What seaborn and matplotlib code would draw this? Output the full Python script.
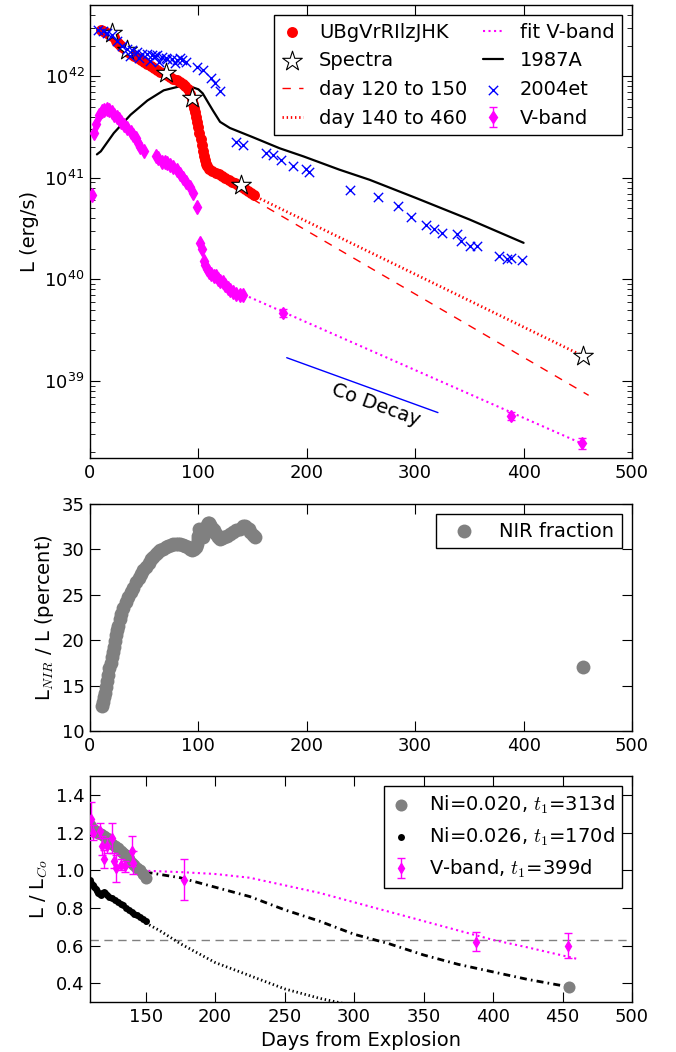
import numpy as np
import matplotlib
matplotlib.use("Agg")
import matplotlib.pyplot as plt
import seaborn as sns

# ---- top panel: luminosity, values as log10(L / erg s^-1) ----
red_days = [10, 12, 14, 16, 18, 20, 22, 24, 26, 28, 30, 32,
            35, 38, 41, 44, 47, 50, 53, 56, 59, 62, 65, 68, 71, 74, 77, 80, 83, 86,
            88, 90, 92, 94,
            95, 96, 97, 98, 99, 100, 101, 102, 103, 104, 105, 106, 107, 108,
            110, 113, 116, 119, 122, 125, 128, 131, 134, 137, 140, 143, 146, 149,
            151]
red_logL = [42.45, 42.44, 42.43, 42.42, 42.41, 42.39, 42.38, 42.35, 42.33, 42.31, 42.29, 42.27,
            42.24, 42.22, 42.20, 42.18, 42.16, 42.14, 42.12, 42.10, 42.08, 42.06, 42.04, 42.03,
            42.01, 41.99, 41.97, 41.96, 41.94, 41.92,
            41.90, 41.87, 41.82, 41.77,
            41.73, 41.69, 41.65, 41.60, 41.55, 41.50, 41.44, 41.38, 41.32, 41.26, 41.21, 41.17,
            41.14, 41.12,
            41.09, 41.07, 41.05, 41.04, 41.02, 41.00, 40.98, 40.96, 40.95, 40.93, 40.91, 40.89,
            40.87, 40.85,
            40.83]

spec_days = [20.7, 34.5, 70.4, 93.9, 139, 455]
spec_logL = [42.42, 42.26, 42.03, 41.78, 40.93, 39.25]

fit120_days = [150, 460]
fit120_logL = [40.79, 38.86]
fit140_days = [150, 460]
fit140_logL = [40.83, 39.22]
fitV_days = [142, 455]
fitV_logL = [39.85, 38.38]

sn87a_days = [6.4, 10, 22, 37.5, 53, 68, 83, 92, 100, 104, 109, 113.5, 120, 129, 150, 175,
              197, 230, 258, 301, 350, 400]
sn87a_logL = [41.23, 41.26, 41.44, 41.62, 41.76, 41.86, 41.90, 41.90, 41.87, 41.83, 41.74,
              41.66, 41.55, 41.49, 41.40, 41.29, 41.21, 41.08, 40.98, 40.80, 40.59, 40.36]

sn04et_days = [7, 11.6, 16, 20.7, 25, 30, 34.5, 37, 39, 43.6, 45, 48, 53, 55, 57, 60, 62, 64,
               66.5, 70, 71, 75.6, 78, 80, 83, 85, 89, 98.5, 104.6, 112, 115, 120, 135, 141,
               162.5, 168.6, 176, 187, 199, 202, 240, 266, 284, 296, 310, 317.5, 325, 339, 342,
               351, 357, 377, 385, 388, 398.5]
sn04et_logL = [42.45, 42.44, 42.42, 42.40, 42.35, 42.30, 42.27, 42.20, 42.26, 42.24, 42.18,
               42.22, 42.22, 42.15, 42.21, 42.20, 42.21, 42.14, 42.19, 42.18, 42.17, 42.17,
               42.13, 42.16, 42.18, 42.16, 42.14, 42.09, 42.06, 41.98, 41.93, 41.85, 41.35,
               41.32, 41.24, 41.22, 41.17, 41.12, 41.09, 41.06, 40.88, 40.81, 40.72, 40.61,
               40.54, 40.50, 40.46, 40.45, 40.38, 40.33, 40.33, 40.23, 40.20, 40.21, 40.19]

vband_days = [2, 3.5, 5.5, 8.5, 11, 13, 15.5, 17.7, 20, 22, 24.5, 27, 29, 31, 34, 37.5, 40, 42,
              44.5, 46.6, 50, 61, 63, 66.5, 69, 71, 74, 77, 80, 83, 86, 89, 92, 95.4, 98.5,
              101.6, 103, 105, 106.5, 108, 110, 112, 114, 116, 118, 120, 123, 125, 127, 129.5,
              132, 135, 138, 141]
vband_logL = [40.83, 41.44, 41.53, 41.62, 41.66, 41.67, 41.68, 41.67, 41.65, 41.62, 41.60,
              41.58, 41.55, 41.52, 41.49, 41.45, 41.42, 41.39, 41.34, 41.30, 41.26, 41.21,
              41.19, 41.16, 41.16, 41.15, 41.13, 41.11, 41.08, 41.04, 41.00, 40.96, 40.91,
              40.85, 40.71, 40.36, 40.30, 40.18, 40.14, 40.10, 40.07, 40.05, 40.03, 40.03,
              40.00, 39.98, 39.97, 39.95, 39.92, 39.90, 39.88, 39.86, 39.85, 39.85]
vlate_days = [178, 388.5, 454]
vlate_logL = [39.67, 38.66, 38.39]
vlate_err = [0.04, 0.04, 0.05]   # dex

co_days = [181.5, 321]
co_logL = [39.23, 38.69]

# ---- middle panel: NIR fraction (percent) ----
nir_days = [11, 12, 13, 14, 15, 16, 17, 18, 19, 20, 21, 22, 23, 24, 25, 26, 27.5, 29, 30.8,
            33, 35, 37.5, 40, 42.5, 45, 47, 49, 51.5, 54, 56, 58.5, 61, 63, 65, 67.7, 70, 72,
            74.5, 77, 79, 81, 83.5, 86, 88, 90, 92, 94, 96, 97.5, 98.5, 99.5, 100, 101, 102,
            103, 104.6, 106, 107, 108, 109, 110, 111, 112.5, 114, 115.5, 117, 118.5, 120, 122,
            124, 126.5, 129, 132, 135, 138, 141.5, 143, 145, 146.5, 148, 150, 152, 455]
nir_frac = [12.8, 13.2, 13.7, 14.2, 14.8, 15.5, 16.2, 16.9, 17.5, 18.1, 18.7, 19.3, 19.9, 20.6,
            21.1, 21.6, 22.3, 22.9, 23.6, 24.2, 24.8, 25.3, 25.8, 26.4, 26.9, 27.3, 27.7, 28.1,
            28.5, 28.9, 29.2, 29.5, 29.7, 29.9, 30.1, 30.3, 30.4, 30.5, 30.6, 30.6, 30.6, 30.6,
            30.5, 30.4, 30.3, 30.1, 29.9, 30.0, 30.3, 30.6, 31.1, 31.5, 32.3, 32.0, 31.8, 31.4,
            31.9, 32.3, 32.7, 32.9, 32.9, 32.7, 32.4, 32.1, 31.8, 31.6, 31.4, 31.2, 31.3, 31.4,
            31.5, 31.7, 31.9, 32.1, 32.3, 32.6, 32.6, 32.4, 32.2, 31.9, 31.6, 31.4, 17.0]

# ---- bottom panel: L / L_Co ----
ni020_days = [110, 112, 114, 116, 118, 120, 122, 124, 126, 128, 130, 132, 134, 136, 138, 140,
              142, 144, 146, 148, 150, 455]
ni020_ratio = [1.24, 1.22, 1.21, 1.20, 1.19, 1.18, 1.17, 1.15, 1.14, 1.13, 1.12, 1.10, 1.09,
               1.08, 1.06, 1.04, 1.03, 1.01, 1.00, 0.98, 0.96, 0.38]
ni026_days = [110, 111, 112, 113, 114, 115, 116, 117, 118, 119, 120, 121, 122, 124, 126, 128,
              130, 132, 134, 136, 138, 140, 142, 144, 146, 148, 150]
ni026_ratio = [0.95, 0.93, 0.92, 0.91, 0.90, 0.89, 0.88, 0.875, 0.87, 0.88, 0.885, 0.88, 0.87,
               0.86, 0.85, 0.84, 0.83, 0.82, 0.815, 0.80, 0.79, 0.78, 0.77, 0.76, 0.75, 0.74,
               0.73]
vb_days = [111, 112, 117, 118.5, 120, 122, 125.7, 127.5, 129, 132.6, 135, 140, 141, 177.5, 388,
           454]
vb_ratio = [1.27, 1.20, 1.21, 1.13, 1.06, 1.13, 1.17, 1.05, 1.01, 1.03, 1.02, 1.10, 1.04, 0.95,
            0.62, 0.60]
vb_err = [0.09, 0.04, 0.04, 0.05, 0.05, 0.04, 0.08, 0.04, 0.07, 0.03, 0.03, 0.08, 0.06, 0.11,
          0.05, 0.065]

t313_days = [150, 175, 200, 225, 250, 275, 300, 325, 350, 375, 400, 425, 455]
t313_ratio = [0.99, 0.96, 0.91, 0.86, 0.79, 0.73, 0.66, 0.61, 0.55, 0.50, 0.46, 0.42, 0.38]
t170_days = [150, 160, 175, 200, 225, 250, 275, 300]
t170_ratio = [0.72, 0.68, 0.61, 0.51, 0.44, 0.37, 0.32, 0.28]
t399_days = [140, 175, 200, 225, 250, 275, 300, 325, 350, 375, 400, 425, 460]
t399_ratio = [1.00, 0.99, 0.98, 0.96, 0.92, 0.88, 0.83, 0.78, 0.73, 0.68, 0.63, 0.59, 0.53]
e_fold = 0.632


def lum(logl):
    return 10 ** np.asarray(logl)


sns.set_style("ticks")
plt.rcParams.update({
    "font.family": ["DejaVu Sans"],
    "font.size": 14,
    "mathtext.fontset": "cm",
    "axes.labelsize": 14,
    "xtick.labelsize": 13,
    "ytick.labelsize": 13,
    "legend.fontsize": 14,
    "axes.edgecolor": "black",
    "axes.linewidth": 1.0,
    "axes.labelcolor": "black",
    "text.color": "black",
    "xtick.color": "black",
    "ytick.color": "black",
    "xtick.direction": "in",
    "ytick.direction": "in",
    "xtick.top": True,
    "ytick.right": True,
    "xtick.major.size": 7.5,
    "ytick.major.size": 7.5,
    "xtick.minor.size": 3.5,
    "ytick.minor.size": 3.5,
    "xtick.major.width": 0.8,
    "ytick.major.width": 0.8,
    "xtick.major.pad": 4,
    "ytick.major.pad": 4,
    "legend.fancybox": False,
    "legend.edgecolor": "black",
    "legend.framealpha": 1.0,
})

fig = plt.figure(figsize=(6.76, 10.52), dpi=100)
ax1 = fig.add_axes([0.1331, 0.5646, 0.8018, 0.4306])
ax2 = fig.add_axes([0.1331, 0.3051, 0.8018, 0.2158])
ax3 = fig.add_axes([0.1331, 0.0475, 0.8018, 0.2148])

# ---------------- top ----------------
ax1.set_yscale("log")
ax1.plot(fit120_days, lum(fit120_logL), color="red", lw=1.0, dashes=(6, 6),
         label="day 120 to 150", zorder=2)
ax1.plot(fit140_days, lum(fit140_logL), color="red", lw=2.0, dashes=(0.5, 1.0),
         label="day 140 to 460", zorder=2)
ax1.plot(fitV_days, lum(fitV_logL), color="magenta", lw=1.5, ls=":",
         label="fit V-band", zorder=2)
sns.lineplot(x=sn87a_days, y=lum(sn87a_logL), color="black", lw=1.6, ax=ax1,
             label="1987A", zorder=3)
ax1.plot(co_days, lum(co_logL), color="blue", lw=1.0, zorder=3)
ax1.text(264, 10 ** 38.77, "Co Decay", rotation=-20, ha="center", va="center",
         rotation_mode="anchor", fontsize=14)

ax1.errorbar(vband_days, lum(vband_logL), fmt="d", color="magenta", ms=7.5, mec="magenta",
             zorder=4)
ax1.errorbar(vlate_days, lum(vlate_logL),
             yerr=lum(vlate_logL) * (10 ** np.asarray(vlate_err) - 1),
             fmt="d", color="magenta", ms=6, mec="magenta", capsize=3, elinewidth=1,
             label="V-band", zorder=4)
sns.scatterplot(x=red_days, y=lum(red_logL), color="red", s=62, linewidth=0, ax=ax1,
                label="UBgVrRIlzJHK", zorder=4)
sns.scatterplot(x=spec_days, y=lum(spec_logL), marker="*", s=220, color="white",
                edgecolor="black", linewidth=0.8, ax=ax1, label="Spectra", zorder=5)
sns.scatterplot(x=sn04et_days, y=lum(sn04et_logL), marker="x", s=45, color="blue",
                linewidth=1.0, ax=ax1, label="2004et", zorder=6)

ax1.set_xlim(0, 500)
ax1.set_ylim(1.75e38, 5e42)
ax1.set_xticks(range(0, 501, 100))
ax1.set_ylabel("L (erg/s)")
ax1.set_xlabel("")

h, l = ax1.get_legend_handles_labels()
order = ["UBgVrRIlzJHK", "Spectra", "day 120 to 150", "day 140 to 460",
         "fit V-band", "1987A", "2004et", "V-band"]
hd = dict(zip(l, h))
leg = ax1.legend([hd[k] for k in order], order, ncol=2, loc="upper right",
                 handlelength=1.05, handletextpad=0.85, columnspacing=0.8,
                 labelspacing=0.5, borderpad=0.4, borderaxespad=0.5, numpoints=1,
                 scatterpoints=1)
leg.get_frame().set_linewidth(1.0)

# ---------------- middle ----------------
sns.scatterplot(x=nir_days, y=nir_frac, color="gray", s=100, linewidth=0, ax=ax2,
                label="NIR fraction")
ax2.set_xlim(0, 500)
ax2.set_ylim(10, 35)
ax2.set_xticks(range(0, 501, 100))
ax2.set_ylabel(r"L$_{NIR}$ / L (percent)")
ax2.set_xlabel("")
leg = ax2.legend(loc="upper right", handlelength=2.0, handletextpad=0.85, borderpad=0.4,
                 borderaxespad=0.5, scatterpoints=1)
leg.get_frame().set_linewidth(1.0)

# ---------------- bottom ----------------
ax3.axhline(e_fold, color="gray", lw=1.0, dashes=(6, 4), zorder=1)
ax3.plot(t313_days, t313_ratio, color="black", lw=2.0, dashes=(2.5, 1.5, 0.6, 1.5), zorder=2)
ax3.plot(t170_days, t170_ratio, color="black", lw=2.0, dashes=(0.5, 1.0), zorder=2)
ax3.plot(t399_days, t399_ratio, color="magenta", lw=1.5, ls=":", zorder=2)
sns.scatterplot(x=ni020_days, y=ni020_ratio, color="gray", s=75, linewidth=0, ax=ax3,
                label=r"Ni=0.020, $t_1$=313d", zorder=3)
sns.scatterplot(x=ni026_days, y=ni026_ratio, color="black", s=25, linewidth=0, ax=ax3,
                label=r"Ni=0.026, $t_1$=170d", zorder=3)
ax3.errorbar(vb_days, vb_ratio, yerr=vb_err, fmt="d", color="magenta", ms=5, mec="magenta",
             capsize=3, elinewidth=1, label=r"V-band, $t_1$=399d", zorder=4)
ax3.set_xlim(110, 500)
ax3.set_ylim(0.3, 1.5)
ax3.set_xticks(range(150, 501, 50))
ax3.set_yticks([0.4, 0.6, 0.8, 1.0, 1.2, 1.4])
ax3.set_xlabel("Days from Explosion")
ax3.set_ylabel(r"L / L$_{Co}$")
leg = ax3.legend(loc="upper right", handlelength=1.0, handletextpad=0.9, borderpad=0.4,
                 borderaxespad=0.5, labelspacing=0.5, numpoints=1, scatterpoints=1)
leg.get_frame().set_linewidth(1.0)

for ax in (ax1, ax2, ax3):
    ax.tick_params(which="both", direction="in", top=True, right=True)
    for sp in ax.spines.values():
        sp.set_visible(True)
        sp.set_color("black")

fig.savefig("out.png", dpi=100)
